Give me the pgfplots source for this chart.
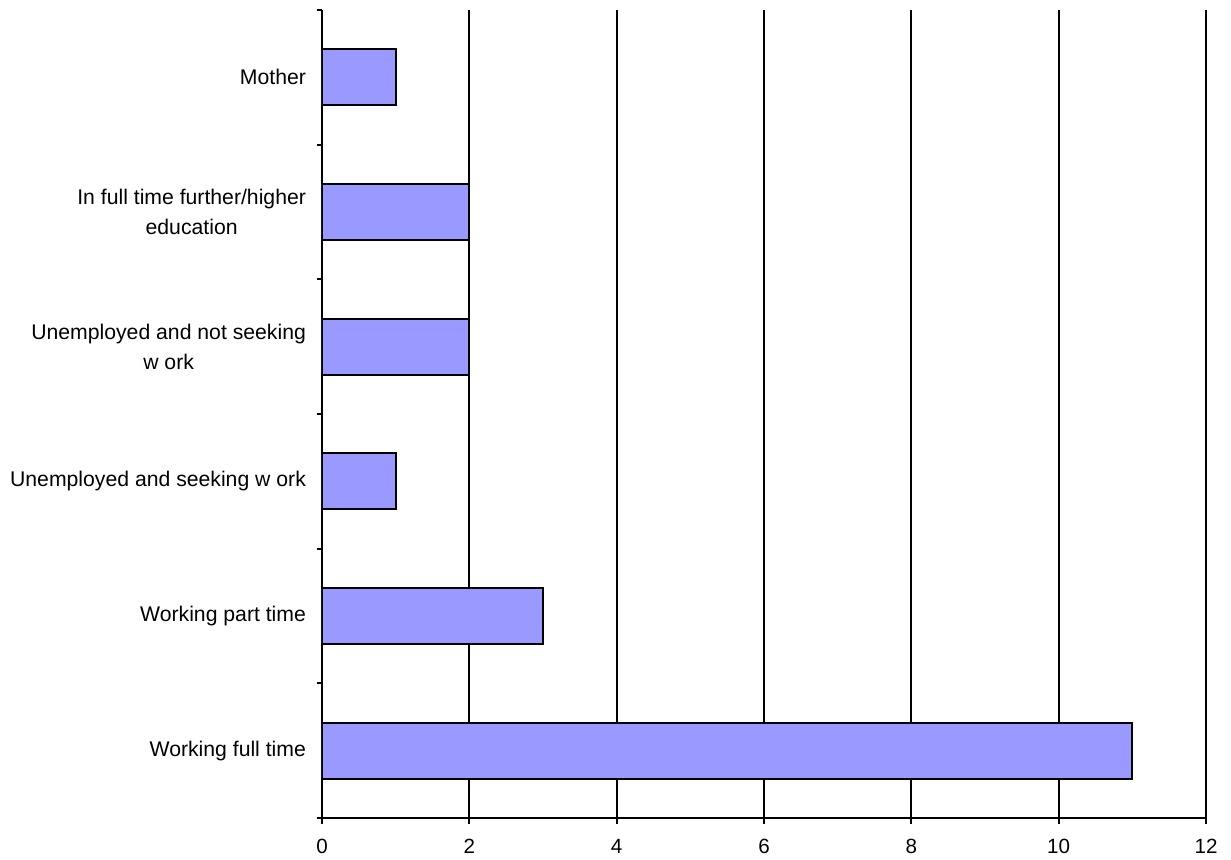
\documentclass[border=0pt]{standalone}
\usepackage{fontspec}
\setmainfont{Liberation Sans}
\usepackage{pgfplots}
\pgfplotsset{compat=1.18}
\definecolor{barblue}{HTML}{9999FF}
\begin{document}
\begin{tikzpicture}
\path[use as bounding box] (-161pt,-21pt) rectangle (454.5pt,409pt);
\begin{axis}[
  at={(0,0)}, anchor=south west,
  scale only axis, width=442pt, height=404pt,
  xmin=0, xmax=12, ymin=-0.5, ymax=5.5,
  axis x line*=bottom, axis y line*=left,
  axis line style={line width=0.9pt, -},
  xtick={0,2,...,12},
  xmajorgrids, grid style={black, line width=0.9pt},
  ytick={0,...,5},
  yticklabels={Working full time, Working part time, Unemployed and seeking w ork, {Unemployed and not seeking\\w ork}, {In full time further/higher\\education}, Mother},
  minor ytick={-0.5,0.5,...,5.5},
  tick align=outside,
  major tick length=3pt,
  minor tick length=2.5pt,
  every tick/.style={black, line width=0.9pt},
  y tick style={draw=none},
  minor y tick style={draw=black, line width=0.9pt},
  yticklabel style={align=center, font=\fontsize{10.6}{15}\selectfont, xshift=-1.5pt},
  xticklabel style={font=\fontsize{10.3}{12}\selectfont, yshift=-4pt},
  /pgf/number format/assume math mode=true,
  xbar, bar width=0.415,
]
\addplot[fill=barblue, draw=black, line width=0.9pt] coordinates {
 (11,0) (3,1) (1,2) (2,3) (2,4) (1,5)
};
\end{axis}
\end{tikzpicture}
\end{document}
